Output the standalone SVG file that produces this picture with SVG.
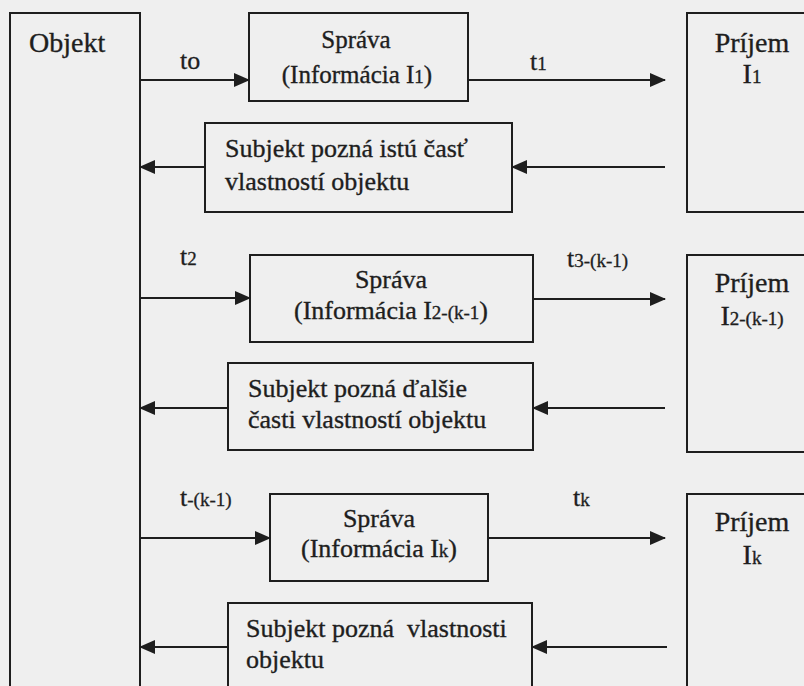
<svg xmlns="http://www.w3.org/2000/svg" width="804" height="686" viewBox="0 0 804 686">
<style>
.box{fill:none;stroke:#1e1e1e;stroke-width:2}
.t{font-family:"Liberation Serif","Times New Roman",serif;font-size:26px;fill:#1e1e1e;stroke:#1e1e1e;stroke-width:0.35;white-space:pre}
.big{font-size:28px}
.sp{font-size:25px}
.c{text-anchor:middle}
.lbl{font-family:"Liberation Serif","Times New Roman",serif;font-size:26px;fill:#1e1e1e;stroke:#1e1e1e;stroke-width:0.3}
.s{font-size:19px}
.ln{stroke:#1e1e1e;stroke-width:2;fill:none;marker-end:url(#ah)}
</style>
<defs>
<marker id="ah" markerUnits="userSpaceOnUse" markerWidth="16" markerHeight="14" refX="15" refY="7" orient="auto">
<path d="M0,0 L16,7 L0,14 Z" fill="#1e1e1e"/>
</marker>
</defs>
<rect width="804" height="686" fill="#efefef"/>
<g id="objekt">
<rect class="box" x="10" y="13" width="130" height="700"/>
<text class="t big" x="29" y="52">Objekt</text>
</g>
<g id="sprava1">
<rect class="box" x="249" y="13" width="219" height="88"/>
<text class="t sp c" x="356" y="48">Správa</text>
<text class="t sp c" x="357" y="83">(Informácia I<tspan class="s">1</tspan>)</text>
</g>
<g id="prijem1">
<rect class="box" x="687" y="13" width="160" height="199"/>
<text class="t big c" x="752" y="52">Príjem</text>
<text class="t big c" x="752" y="83">I<tspan class="s">1</tspan></text>
</g>
<g id="subjekt1">
<rect class="box" x="205" y="123" width="307" height="89"/>
<text class="t" x="225" y="157">Subjekt pozná istú časť</text>
<text class="t" x="225" y="190">vlastností objektu</text>
</g>
<g id="sprava2">
<rect class="box" x="250" y="255" width="283" height="87"/>
<text class="t c" x="391" y="288">Správa</text>
<text class="t c" x="391" y="319">(Informácia I<tspan class="s">2-(k-1</tspan>)</text>
</g>
<g id="prijem2">
<rect class="box" x="687" y="255" width="160" height="197"/>
<text class="t big c" x="752" y="292">Príjem</text>
<text class="t big c" x="752" y="325">I<tspan class="s">2-(k-1)</tspan></text>
</g>
<g id="subjekt2">
<rect class="box" x="228" y="363" width="305" height="87"/>
<text class="t" x="248" y="397">Subjekt pozná ďalšie</text>
<text class="t" x="248" y="428">časti vlastností objektu</text>
</g>
<g id="sprava3">
<rect class="box" x="270" y="494" width="218" height="87"/>
<text class="t c" x="379" y="527">Správa</text>
<text class="t c" x="379" y="557">(Informácia I<tspan class="s">k</tspan>)</text>
</g>
<g id="prijem3">
<rect class="box" x="687" y="494" width="160" height="220"/>
<text class="t big c" x="752" y="531">Príjem</text>
<text class="t big c" x="752" y="564">I<tspan class="s">k</tspan></text>
</g>
<g id="subjekt3">
<rect class="box" x="228" y="603" width="304" height="110"/>
<text class="t" x="246" y="637">Subjekt pozná  vlastnosti</text>
<text class="t" x="246" y="668">objektu</text>
</g>
<g id="connectors">
<line class="ln" x1="140" y1="80" x2="249" y2="80"/>
<line class="ln" x1="468" y1="80" x2="665" y2="80"/>
<line class="ln" x1="665" y1="167" x2="512" y2="167"/>
<line class="ln" x1="205" y1="167" x2="140" y2="167"/>
<line class="ln" x1="140" y1="298" x2="250" y2="298"/>
<line class="ln" x1="533" y1="299" x2="665" y2="299"/>
<line class="ln" x1="665" y1="408" x2="533" y2="408"/>
<line class="ln" x1="228" y1="408" x2="140" y2="408"/>
<line class="ln" x1="140" y1="538" x2="270" y2="538"/>
<line class="ln" x1="488" y1="538" x2="665" y2="538"/>
<line class="ln" x1="667" y1="647" x2="532" y2="647"/>
<line class="ln" x1="228" y1="647" x2="140" y2="647"/>
<text class="lbl" x="180" y="69">to</text>
<text class="lbl" x="530" y="70">t<tspan class="s">1</tspan></text>
<text class="lbl" x="180" y="265">t<tspan class="s">2</tspan></text>
<text class="lbl" x="567" y="267">t<tspan class="s">3-(k-1)</tspan></text>
<text class="lbl" x="180" y="506">t<tspan class="s">-(k-1)</tspan></text>
<text class="lbl" x="573" y="506">t<tspan class="s">k</tspan></text>
</g>
</svg>
